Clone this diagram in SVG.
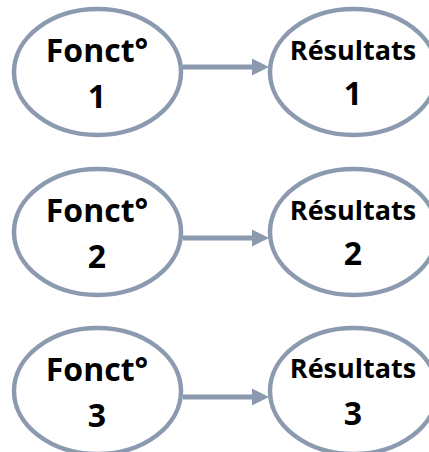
<svg xmlns="http://www.w3.org/2000/svg" width="429" height="452" viewBox="0 0 429 452">
<style>
.node{fill:#fff;stroke:#8c9ab0;stroke-width:4.5}
.t{font-family:"Open Sans","Liberation Sans",sans-serif;font-weight:bold;fill:#000;text-anchor:middle}
.f{font-size:32px}
.r{font-size:27px}
.edge{stroke:#8c9ab0;stroke-width:5;fill:none}
.head{fill:#8c9ab0}
</style>
<rect width="429" height="452" fill="#fff"/>
<g id="connectors">
<line class="edge" x1="183" y1="67" x2="254" y2="67"/>
<polygon class="head" points="252,58.5 269,67 252,75.5"/>
<line class="edge" x1="183" y1="238" x2="254" y2="238"/>
<polygon class="head" points="252,229.5 269,238 252,246.5"/>
<line class="edge" x1="183" y1="397" x2="254" y2="397"/>
<polygon class="head" points="252,388.5 269,397 252,405.5"/>
</g>
<g id="f1"><ellipse class="node" cx="97.5" cy="72" rx="83.5" ry="63"/><text class="t f" x="97" y="62">Fonct°</text><text class="t f" x="97" y="108">1</text></g>
<g id="r1"><ellipse class="node" cx="353.5" cy="72" rx="83.5" ry="63"/><text class="t r" x="353" y="60">Résultats</text><text class="t f" x="353" y="105">1</text></g>
<g id="f2"><ellipse class="node" cx="97.5" cy="232" rx="83.5" ry="63"/><text class="t f" x="97" y="222">Fonct°</text><text class="t f" x="97" y="268">2</text></g>
<g id="r2"><ellipse class="node" cx="353.5" cy="232" rx="83.5" ry="63"/><text class="t r" x="353" y="220">Résultats</text><text class="t f" x="353" y="265">2</text></g>
<g id="f3"><ellipse class="node" cx="97.5" cy="391" rx="83.5" ry="63"/><text class="t f" x="97" y="381">Fonct°</text><text class="t f" x="97" y="427">3</text></g>
<g id="r3"><ellipse class="node" cx="353.5" cy="391" rx="83.5" ry="63"/><text class="t r" x="353" y="378">Résultats</text><text class="t f" x="353" y="425">3</text></g>
</svg>
